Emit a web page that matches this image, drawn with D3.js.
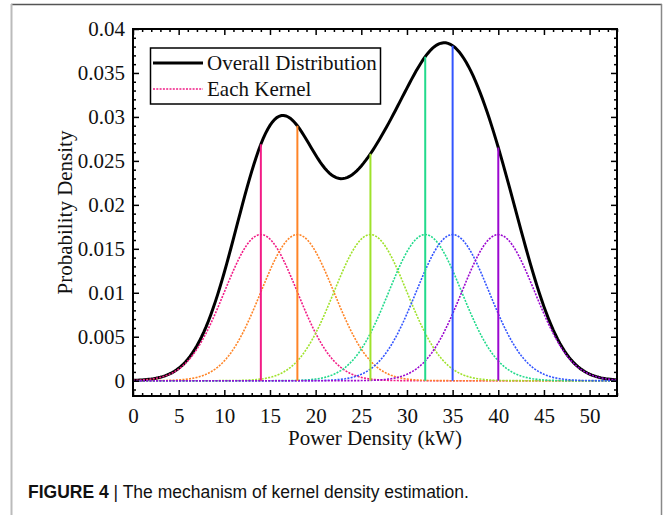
<!DOCTYPE html>
<html>
<head>
<meta charset="utf-8">
<script src="https://cdn.jsdelivr.net/npm/d3@7"></script>
<style>
  body { margin: 0; background: #fff; }
  svg text { font-family: "Liberation Serif", "Times New Roman", serif; fill: #111; }
  .caption { font-family: "Liberation Sans", Arial, sans-serif; }
</style>
</head>
<body>
<svg id="chart" width="664" height="515"></svg>
<script>
var centers = [14, 18, 26, 32, 35, 40]
var bandwidth = 4
var kernelColors = ["#f21c86", "#ff8426", "#9fe22a", "#22da8c", "#3355ff", "#9b08d0"]

var xTicks = [0, 5, 10, 15, 20, 25, 30, 35, 40, 45, 50]
var yTicks = [0, 0.005, 0.01, 0.015, 0.02, 0.025, 0.03, 0.035, 0.04]
var yTickLabels = ["0", "0.005", "0.01", "0.015", "0.02", "0.025", "0.03", "0.035", "0.04"]
var legendLabels = ["Overall Distribution", "Each Kernel"]

var svg = d3.select("#chart")

// outer figure frame
svg.append("line").attr("x1", 11).attr("y1", 4.5).attr("x2", 662).attr("y2", 4.5)
   .attr("stroke", "#555").attr("stroke-width", 1.5)
svg.append("line").attr("x1", 11.5).attr("y1", 4).attr("x2", 11.5).attr("y2", 515)
   .attr("stroke", "#bbb").attr("stroke-width", 2)
svg.append("line").attr("x1", 661.5).attr("y1", 4).attr("x2", 661.5).attr("y2", 515)
   .attr("stroke", "#888").attr("stroke-width", 1.5)

var plot = {left: 133, right: 617, top: 29, bottom: 396}

var x = d3.scaleLinear().domain([0, 53]).range([plot.left, plot.right])
var y = d3.scaleLinear().domain([-0.00174, 0.04]).range([plot.bottom, plot.top])

function gauss(v, c){
  var u = (v - c) / bandwidth
  return Math.exp(-0.5 * u * u) / (centers.length * bandwidth * Math.sqrt(2 * Math.PI))
}
function overall(v){
  return d3.sum(centers, c => gauss(v, c))
}

var xs = d3.range(0, 53.001, 0.25)

var clip = svg.append("clipPath").attr("id", "clip")
clip.append("rect").attr("x", plot.left).attr("y", plot.top)
    .attr("width", plot.right - plot.left).attr("height", plot.bottom - plot.top)

var g = svg.append("g").attr("clip-path", "url(#clip)")

var line = d3.line().x(d => x(d[0])).y(d => y(d[1]))

// overall distribution
g.append("path")
  .datum(xs.map(v => [v, overall(v)]))
  .attr("fill", "none").attr("stroke", "#000").attr("stroke-width", 3)
  .attr("d", line)

// each kernel, dotted
centers.forEach(function(c, i){
  g.append("path")
    .datum(xs.map(v => [v, gauss(v, c)]))
    .attr("fill", "none").attr("stroke", kernelColors[i]).attr("stroke-width", 1.6)
    .attr("stroke-dasharray", "2,1.3")
    .attr("d", line)
})

// vertical lines at each sample
g.selectAll(".sample").data(centers).enter().append("line")
  .attr("class", "sample")
  .attr("x1", d => x(d)).attr("x2", d => x(d))
  .attr("y1", y(0)).attr("y2", d => y(overall(d)))
  .attr("stroke", (d, i) => kernelColors[i]).attr("stroke-width", 2)

// axes with inward ticks on all four sides
var xMinor = d3.range(0, 54, 1)
var yMinor = d3.range(-0.001, 0.0401, 0.001)

function drawAxis(axis, pos){
  var a = svg.append("g").attr("transform", pos)
  a.call(axis)
  a.select(".domain").remove()
  a.selectAll("line").attr("stroke", "#000").attr("stroke-width", 1.5)
  return a
}

var bottom = drawAxis(d3.axisBottom(x).tickValues(xTicks).tickSize(-6).tickPadding(12).tickFormat(d3.format("d")),
  "translate(0," + plot.bottom + ")")
bottom.selectAll("text").attr("font-size", 21).attr("dy", "0.71em")
drawAxis(d3.axisBottom(x).tickValues(xMinor.filter(v => v % 5)).tickSize(-3).tickFormat(""),
  "translate(0," + plot.bottom + ")")

drawAxis(d3.axisTop(x).tickValues(xTicks).tickSize(-6).tickFormat(""), "translate(0," + plot.top + ")")
drawAxis(d3.axisTop(x).tickValues(xMinor.filter(v => v % 5)).tickSize(-3).tickFormat(""), "translate(0," + plot.top + ")")

var left = drawAxis(d3.axisLeft(y).tickValues(yTicks).tickSize(-6).tickPadding(8).tickFormat((d, i) => yTickLabels[i]),
  "translate(" + plot.left + ",0)")
left.selectAll("text").attr("font-size", 21)
drawAxis(d3.axisLeft(y).tickValues(yMinor.filter(v => Math.round(v * 1000) % 5 != 0)).tickSize(-3).tickFormat(""),
  "translate(" + plot.left + ",0)")

drawAxis(d3.axisRight(y).tickValues(yTicks).tickSize(-6).tickFormat(""), "translate(" + plot.right + ",0)")
drawAxis(d3.axisRight(y).tickValues(yMinor.filter(v => Math.round(v * 1000) % 5 != 0)).tickSize(-3).tickFormat(""),
  "translate(" + plot.right + ",0)")

// frame
svg.append("rect").attr("x", plot.left).attr("y", plot.top)
  .attr("width", plot.right - plot.left).attr("height", plot.bottom - plot.top)
  .attr("fill", "none").attr("stroke", "#000").attr("stroke-width", 2)

// axis titles
svg.append("text").attr("x", (plot.left + plot.right) / 2).attr("y", 445)
  .attr("text-anchor", "middle").attr("font-size", 21).text("Power Density (kW)")
svg.append("text").attr("transform", "translate(72," + (plot.top + plot.bottom) / 2 + ") rotate(-90)")
  .attr("text-anchor", "middle").attr("font-size", 21).text("Probability Density")

// legend
var lg = svg.append("g")
lg.append("rect").attr("x", 150.5).attr("y", 48).attr("width", 230).attr("height", 56)
  .attr("fill", "#fff").attr("stroke", "#000").attr("stroke-width", 1.5)
lg.append("line").attr("x1", 153).attr("x2", 203).attr("y1", 63).attr("y2", 63)
  .attr("stroke", "#000").attr("stroke-width", 3)
lg.append("line").attr("x1", 153).attr("x2", 203).attr("y1", 89).attr("y2", 89)
  .attr("stroke", kernelColors[0]).attr("stroke-width", 1.6).attr("stroke-dasharray", "2,1.3")
lg.selectAll(".lt").data(legendLabels).enter().append("text")
  .attr("x", 207).attr("y", (d, i) => 70 + i * 25.5)
  .attr("font-size", 21).text(d => d)

// caption
var cap = svg.append("text").attr("class", "caption").attr("x", 28).attr("y", 498).attr("font-size", 17.5)
cap.append("tspan").attr("font-weight", "bold").text("FIGURE 4")
cap.append("tspan").text(" | The mechanism of kernel density estimation.")
</script>
</body>
</html>
